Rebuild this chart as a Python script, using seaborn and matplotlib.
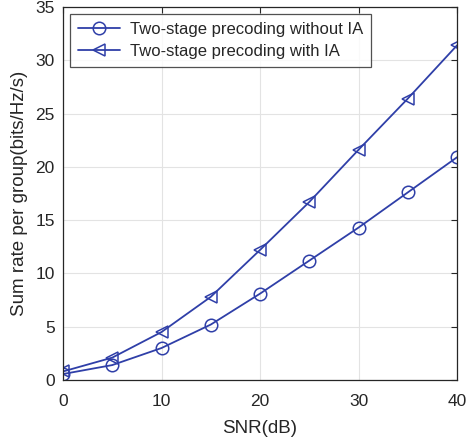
import matplotlib
matplotlib.use("Agg")
import matplotlib.pyplot as plt
import seaborn as sns
import pandas as pd

snr = [0, 5, 10, 15, 20, 25, 30, 35, 40]
rate_without_ia = [0.56, 1.4, 3.0, 5.2, 8.1, 11.2, 14.3, 17.6, 20.9]
rate_with_ia = [0.8, 2.1, 4.5, 7.8, 12.2, 16.7, 21.6, 26.4, 31.4]
labels = ["Two-stage precoding without IA", "Two-stage precoding with IA"]

sns.set_style("white")
plt.rcParams['font.family'] = ['Liberation Sans', 'DejaVu Sans']

color = "#2f3fa8"
fig = plt.figure(figsize=(4.67, 4.43), dpi=100)
ax = fig.add_axes([63/467, 1-380/443, (457-63)/467, (380-7)/443])

df = pd.DataFrame({"snr": snr * 2,
                   "rate": rate_without_ia + rate_with_ia,
                   "series": [labels[0]] * len(snr) + [labels[1]] * len(snr)})
sns.lineplot(data=df, x="snr", y="rate", hue="series", style="series",
             markers={labels[0]: "o", labels[1]: "<"}, dashes=False,
             palette={labels[0]: color, labels[1]: color},
             markersize=9, markerfacecolor="none", markeredgecolor=color,
             markeredgewidth=1.1, linewidth=1.3, ax=ax)

ax.set_xlim(0, 40)
ax.set_ylim(0, 35)
ax.set_xticks([0, 10, 20, 30, 40])
ax.set_yticks([0, 5, 10, 15, 20, 25, 30, 35])
ax.grid(True, color="#e3e3e3", linewidth=0.8)
for s in ax.spines.values():
    s.set_visible(True)
    s.set_color("#262626")
    s.set_linewidth(0.9)
ax.tick_params(direction="in", length=4, width=0.8, labelsize=12.5,
               top=True, right=True, colors="#262626", pad=6)
ax.tick_params(axis="x", pad=10)
ax.set_xlabel("SNR(dB)", fontsize=13.5, color="#262626", labelpad=8)
ax.set_ylabel("Sum rate per group(bits/Hz/s)", fontsize=13.5, color="#262626", labelpad=5)

leg = ax.legend(loc="upper left", fontsize=12, frameon=True, fancybox=False,
                edgecolor="#262626", borderaxespad=0.4, handlelength=2.5,
                borderpad=0.5, labelspacing=0.4, handletextpad=0.6)
leg.get_frame().set_linewidth(0.9)
for h in leg.legend_handles:
    h.set_markerfacecolor("none")
    h.set_markeredgecolor(color)

fig.savefig("out.png", dpi=100)
